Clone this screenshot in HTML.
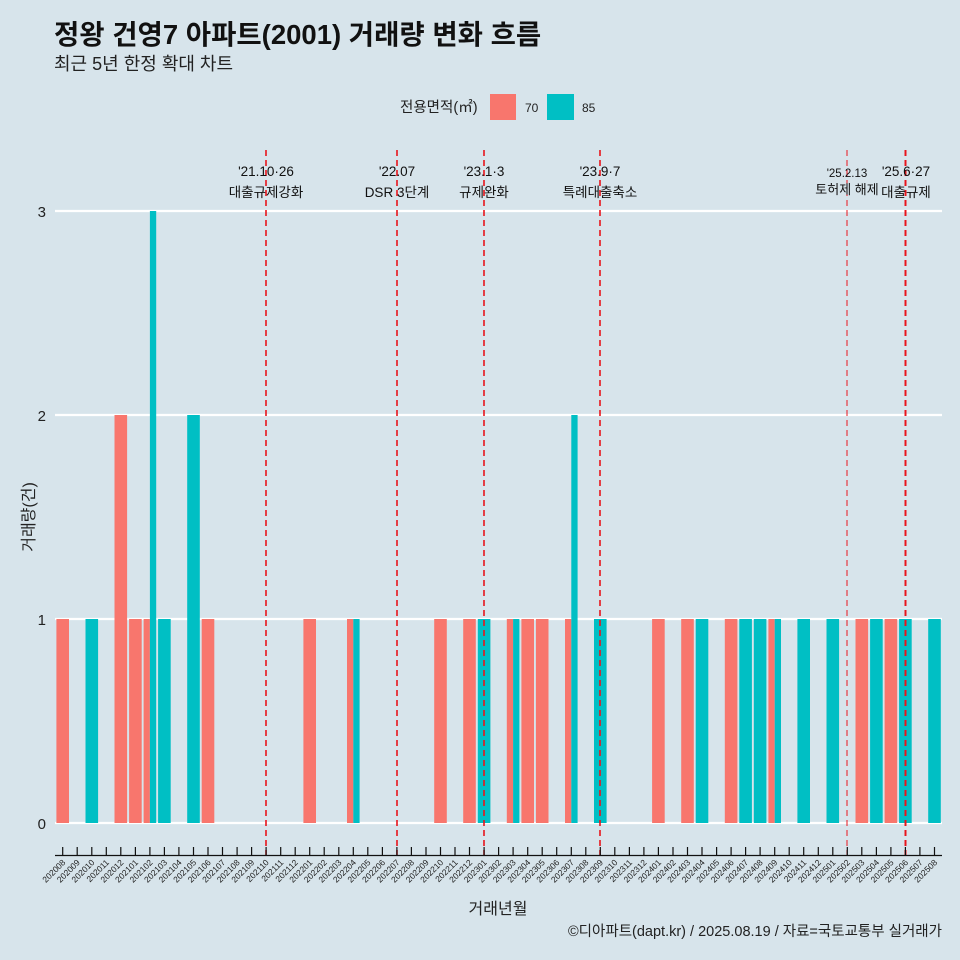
<!DOCTYPE html>
<html><head><meta charset="utf-8"><style>
html,body{margin:0;padding:0;background:#d7e4eb;}
svg{display:block;font-family:"Liberation Sans","Noto Sans CJK KR",sans-serif;}
</style></head><body>
<svg width="960" height="960" viewBox="0 0 960 960" xmlns="http://www.w3.org/2000/svg">
<rect width="960" height="960" fill="#d7e4eb"/>
<text x="54" y="44" font-size="27.5" font-weight="bold" fill="#111">정왕 건영7 아파트(2001) 거래량 변화 흐름</text>
<text x="54" y="70" font-size="18" fill="#222">최근 5년 한정 확대 차트</text>
<text x="400" y="112" font-size="14.5" fill="#222">전용면적(㎡)</text>
<rect x="490" y="94" width="26" height="26" fill="#f8766d"/>
<text x="525" y="112" font-size="12" fill="#222">70</text>
<rect x="547" y="94" width="27" height="26" fill="#00bfc4"/>
<text x="582" y="112" font-size="12" fill="#222">85</text>
<g stroke="#fff" stroke-width="2.2">
<line x1="55" x2="942" y1="823" y2="823"/><line x1="55" x2="942" y1="619" y2="619"/>
<line x1="55" x2="942" y1="415" y2="415"/><line x1="55" x2="942" y1="211" y2="211"/>
</g>
<g font-size="15" fill="#222" text-anchor="end">
<text x="46" y="829">0</text><text x="46" y="625">1</text><text x="46" y="421">2</text><text x="46" y="217">3</text>
</g>
<text transform="translate(34,517) rotate(-90)" font-size="16" fill="#222" text-anchor="middle">거래량(건)</text>
<g fill="#f8766d">
<rect x="56.4" y="619" width="12.6" height="204"/>
<rect x="114.5" y="415" width="12.6" height="408"/>
<rect x="129.1" y="619" width="12.6" height="204"/>
<rect x="143.6" y="619" width="6.3" height="204"/>
<rect x="201.7" y="619" width="12.6" height="204"/>
<rect x="303.4" y="619" width="12.6" height="204"/>
<rect x="347.0" y="619" width="6.3" height="204"/>
<rect x="434.2" y="619" width="12.6" height="204"/>
<rect x="463.2" y="619" width="12.6" height="204"/>
<rect x="506.8" y="619" width="6.3" height="204"/>
<rect x="521.4" y="619" width="12.6" height="204"/>
<rect x="535.9" y="619" width="12.6" height="204"/>
<rect x="565.0" y="619" width="6.3" height="204"/>
<rect x="652.1" y="619" width="12.6" height="204"/>
<rect x="681.2" y="619" width="12.6" height="204"/>
<rect x="724.8" y="619" width="12.6" height="204"/>
<rect x="768.4" y="619" width="6.3" height="204"/>
<rect x="855.5" y="619" width="12.6" height="204"/>
<rect x="884.6" y="619" width="12.6" height="204"/>
</g>
<g fill="#00bfc4">
<rect x="85.5" y="619" width="12.6" height="204"/>
<rect x="149.9" y="211" width="6.3" height="612"/>
<rect x="158.1" y="619" width="12.6" height="204"/>
<rect x="187.2" y="415" width="12.6" height="408"/>
<rect x="353.3" y="619" width="6.3" height="204"/>
<rect x="477.8" y="619" width="12.6" height="204"/>
<rect x="513.1" y="619" width="6.3" height="204"/>
<rect x="571.3" y="415" width="6.3" height="408"/>
<rect x="594.0" y="619" width="12.6" height="204"/>
<rect x="695.7" y="619" width="12.6" height="204"/>
<rect x="739.3" y="619" width="12.6" height="204"/>
<rect x="753.8" y="619" width="12.6" height="204"/>
<rect x="774.7" y="619" width="6.3" height="204"/>
<rect x="797.4" y="619" width="12.6" height="204"/>
<rect x="826.5" y="619" width="12.6" height="204"/>
<rect x="870.1" y="619" width="12.6" height="204"/>
<rect x="899.1" y="619" width="12.6" height="204"/>
<rect x="928.2" y="619" width="12.6" height="204"/>
</g>
<g stroke="#e8141c" stroke-dasharray="6,4">
<line x1="266" x2="266" y1="150" y2="856" stroke-width="1.6"/>
<line x1="397" x2="397" y1="150" y2="856" stroke-width="1.6"/>
<line x1="484" x2="484" y1="150" y2="856" stroke-width="1.6"/>
<line x1="600" x2="600" y1="150" y2="856" stroke-width="1.6"/>
<line x1="847" x2="847" y1="150" y2="856" stroke-width="1"/>
<line x1="905.5" x2="905.5" y1="150" y2="856" stroke-width="2"/>
</g>
<g font-size="13.5" fill="#111" text-anchor="middle">
<text x="266" y="176">'21.10·26</text><text x="266" y="197">대출규제강화</text>
<text x="397" y="176">'22.07</text><text x="397" y="197">DSR 3단계</text>
<text x="484" y="176">'23.1·3</text><text x="484" y="197">규제완화</text>
<text x="600" y="176">'23.9·7</text><text x="600" y="197">특례대출축소</text>
<text x="847" y="177" font-size="11.5">'25.2.13</text><text x="847" y="194" font-size="13">토허제 해제</text>
<text x="906" y="176">'25.6·27</text><text x="906" y="197">대출규제</text>
</g>
<line x1="55" x2="942" y1="855.5" y2="855.5" stroke="#111" stroke-width="1.2"/>
<path stroke="#111" stroke-width="1.2" d="M62.7 847v8M77.2 847v8M91.8 847v8M106.3 847v8M120.8 847v8M135.4 847v8M149.9 847v8M164.4 847v8M178.9 847v8M193.5 847v8M208.0 847v8M222.5 847v8M237.1 847v8M251.6 847v8M266.1 847v8M280.7 847v8M295.2 847v8M309.7 847v8M324.2 847v8M338.8 847v8M353.3 847v8M367.8 847v8M382.4 847v8M396.9 847v8M411.4 847v8M426.0 847v8M440.5 847v8M455.0 847v8M469.5 847v8M484.1 847v8M498.6 847v8M513.1 847v8M527.7 847v8M542.2 847v8M556.7 847v8M571.3 847v8M585.8 847v8M600.3 847v8M614.8 847v8M629.4 847v8M643.9 847v8M658.4 847v8M673.0 847v8M687.5 847v8M702.0 847v8M716.6 847v8M731.1 847v8M745.6 847v8M760.1 847v8M774.7 847v8M789.2 847v8M803.7 847v8M818.3 847v8M832.8 847v8M847.3 847v8M861.8 847v8M876.4 847v8M890.9 847v8M905.4 847v8M919.9 847v8M934.5 847v8"/>
<g font-size="8.5" fill="#222" text-anchor="end">
<text transform="translate(66,863) rotate(-45)">202008</text>
<text transform="translate(80.5,863) rotate(-45)">202009</text>
<text transform="translate(95.1,863) rotate(-45)">202010</text>
<text transform="translate(109.6,863) rotate(-45)">202011</text>
<text transform="translate(124.1,863) rotate(-45)">202012</text>
<text transform="translate(138.7,863) rotate(-45)">202101</text>
<text transform="translate(153.2,863) rotate(-45)">202102</text>
<text transform="translate(167.7,863) rotate(-45)">202103</text>
<text transform="translate(182.2,863) rotate(-45)">202104</text>
<text transform="translate(196.8,863) rotate(-45)">202105</text>
<text transform="translate(211.3,863) rotate(-45)">202106</text>
<text transform="translate(225.8,863) rotate(-45)">202107</text>
<text transform="translate(240.4,863) rotate(-45)">202108</text>
<text transform="translate(254.9,863) rotate(-45)">202109</text>
<text transform="translate(269.4,863) rotate(-45)">202110</text>
<text transform="translate(284.0,863) rotate(-45)">202111</text>
<text transform="translate(298.5,863) rotate(-45)">202112</text>
<text transform="translate(313.0,863) rotate(-45)">202201</text>
<text transform="translate(327.5,863) rotate(-45)">202202</text>
<text transform="translate(342.1,863) rotate(-45)">202203</text>
<text transform="translate(356.6,863) rotate(-45)">202204</text>
<text transform="translate(371.1,863) rotate(-45)">202205</text>
<text transform="translate(385.7,863) rotate(-45)">202206</text>
<text transform="translate(400.2,863) rotate(-45)">202207</text>
<text transform="translate(414.7,863) rotate(-45)">202208</text>
<text transform="translate(429.3,863) rotate(-45)">202209</text>
<text transform="translate(443.8,863) rotate(-45)">202210</text>
<text transform="translate(458.3,863) rotate(-45)">202211</text>
<text transform="translate(472.8,863) rotate(-45)">202212</text>
<text transform="translate(487.4,863) rotate(-45)">202301</text>
<text transform="translate(501.9,863) rotate(-45)">202302</text>
<text transform="translate(516.4,863) rotate(-45)">202303</text>
<text transform="translate(531.0,863) rotate(-45)">202304</text>
<text transform="translate(545.5,863) rotate(-45)">202305</text>
<text transform="translate(560.0,863) rotate(-45)">202306</text>
<text transform="translate(574.6,863) rotate(-45)">202307</text>
<text transform="translate(589.1,863) rotate(-45)">202308</text>
<text transform="translate(603.6,863) rotate(-45)">202309</text>
<text transform="translate(618.1,863) rotate(-45)">202310</text>
<text transform="translate(632.7,863) rotate(-45)">202311</text>
<text transform="translate(647.2,863) rotate(-45)">202312</text>
<text transform="translate(661.7,863) rotate(-45)">202401</text>
<text transform="translate(676.3,863) rotate(-45)">202402</text>
<text transform="translate(690.8,863) rotate(-45)">202403</text>
<text transform="translate(705.3,863) rotate(-45)">202404</text>
<text transform="translate(719.9,863) rotate(-45)">202405</text>
<text transform="translate(734.4,863) rotate(-45)">202406</text>
<text transform="translate(748.9,863) rotate(-45)">202407</text>
<text transform="translate(763.4,863) rotate(-45)">202408</text>
<text transform="translate(778.0,863) rotate(-45)">202409</text>
<text transform="translate(792.5,863) rotate(-45)">202410</text>
<text transform="translate(807.0,863) rotate(-45)">202411</text>
<text transform="translate(821.6,863) rotate(-45)">202412</text>
<text transform="translate(836.1,863) rotate(-45)">202501</text>
<text transform="translate(850.6,863) rotate(-45)">202502</text>
<text transform="translate(865.1,863) rotate(-45)">202503</text>
<text transform="translate(879.7,863) rotate(-45)">202504</text>
<text transform="translate(894.2,863) rotate(-45)">202505</text>
<text transform="translate(908.7,863) rotate(-45)">202506</text>
<text transform="translate(923.2,863) rotate(-45)">202507</text>
<text transform="translate(937.8,863) rotate(-45)">202508</text>
</g>
<text x="498" y="914" font-size="16" fill="#222" text-anchor="middle">거래년월</text>
<text x="942" y="936" font-size="14.5" fill="#222" text-anchor="end">©디아파트(dapt.kr) / 2025.08.19 / 자료=국토교통부 실거래가</text>
</svg>
</body></html>
